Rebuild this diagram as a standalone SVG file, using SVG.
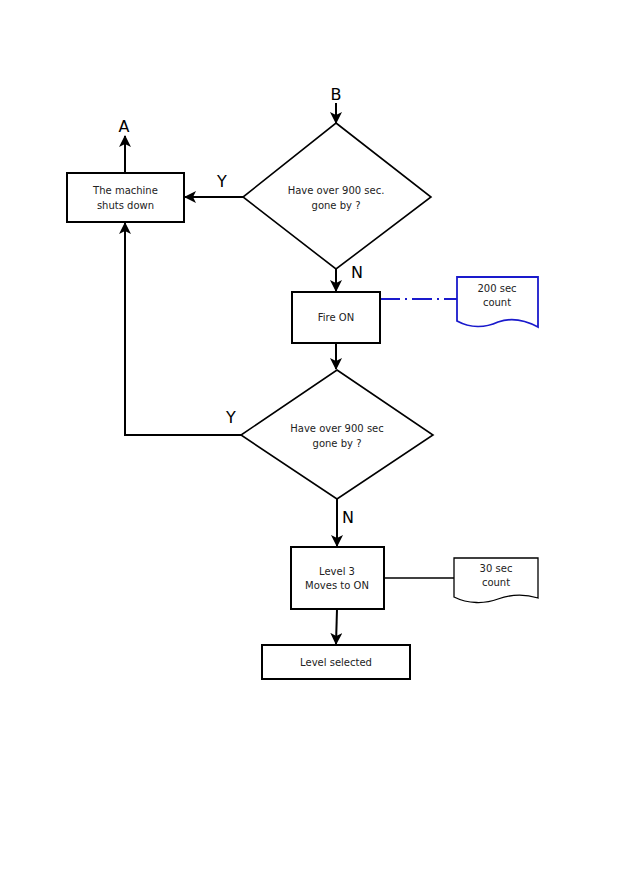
<svg xmlns="http://www.w3.org/2000/svg" width="629" height="893" viewBox="0 0 629 893">
<defs>
<marker id="ah" viewBox="0 0 12 12" refX="11" refY="6" markerWidth="12" markerHeight="12" markerUnits="userSpaceOnUse" orient="auto">
<path d="M0,0 L12,6 L0,12 L3,6 Z" fill="#000"/>
</marker>
<style>
.box{fill:#fff;stroke:#000;stroke-width:2}
.dia{fill:#fff;stroke:#000;stroke-width:1.6}
.doc{fill:#fff;stroke:#000;stroke-width:1.3}
.docb{fill:#fff;stroke:#1a1acc;stroke-width:1.8}
.t{font-family:"DejaVu Sans",Verdana,sans-serif;font-size:10px;fill:#222;text-anchor:middle}
.lbl{font-family:"DejaVu Sans",Arial,sans-serif;font-size:16px;fill:#000;text-anchor:middle}
.c{fill:none;stroke:#000;stroke-width:2}
</style>
</defs>
<rect width="629" height="893" fill="#fff"/>

<g id="connectors">
<line class="c" x1="336" y1="103" x2="336" y2="123" marker-end="url(#ah)"/>
<line class="c" x1="243" y1="197" x2="185" y2="197" marker-end="url(#ah)"/>
<line class="c" x1="125" y1="173" x2="125" y2="136" marker-end="url(#ah)"/>
<line class="c" x1="336" y1="269" x2="336" y2="291" marker-end="url(#ah)"/>
<line class="c" x1="336" y1="343" x2="336" y2="369" marker-end="url(#ah)"/>
<polyline class="c" points="241,435 125,435 125,223" marker-end="url(#ah)"/>
<line class="c" x1="337" y1="499" x2="337" y2="546" marker-end="url(#ah)"/>
<line class="c" x1="337" y1="609" x2="336" y2="644" marker-end="url(#ah)"/>
<line x1="380" y1="299" x2="457" y2="299" stroke="#1a1acc" stroke-width="1.8" stroke-dasharray="20,5,2,5"/>
<line x1="384" y1="578" x2="454" y2="578" stroke="#000" stroke-width="1.3"/>
<text class="lbl" x="336" y="100">B</text>
<text class="lbl" x="124" y="132">A</text>
<text class="lbl" x="222" y="187">Y</text>
<text class="lbl" x="357" y="278">N</text>
<text class="lbl" x="231" y="423">Y</text>
<text class="lbl" x="348" y="523">N</text>
</g>

<g id="shutdown">
<rect class="box" x="67" y="173" width="117" height="49"/>
<text class="t" x="125.5" y="194">The machine</text>
<text class="t" x="125.5" y="209">shuts down</text>
</g>

<g id="decision1">
<polygon class="dia" points="336,123 431,197 336,269 243,197"/>
<text class="t" x="336" y="194">Have over 900 sec.</text>
<text class="t" x="336" y="209">gone by ?</text>
</g>

<g id="fireon">
<rect class="box" x="292" y="292" width="88" height="51"/>
<text class="t" x="336" y="321">Fire ON</text>
</g>

<g id="doc200">
<path class="docb" d="M457,277 L538,277 L538,327 C525,320 512,317 498,322 C485,328 470,328 457,321 Z"/>
<text class="t" x="497" y="292">200 sec</text>
<text class="t" x="497" y="306">count</text>
</g>

<g id="decision2">
<polygon class="dia" points="337,370 433,435 337,499 241,435"/>
<text class="t" x="337" y="432">Have over 900 sec</text>
<text class="t" x="337" y="447">gone by ?</text>
</g>

<g id="level3">
<rect class="box" x="291" y="547" width="93" height="62"/>
<text class="t" x="337" y="575">Level 3</text>
<text class="t" x="337" y="589">Moves to ON</text>
</g>

<g id="doc30">
<path class="doc" d="M454,558 L538,558 L538,598 C525,594 512,594 498,599 C485,604 468,604 454,597 Z"/>
<text class="t" x="496" y="572">30 sec</text>
<text class="t" x="496" y="586">count</text>
</g>

<g id="levelselected">
<rect class="box" x="262" y="645" width="148" height="34"/>
<text class="t" x="336" y="666">Level selected</text>
</g>
</svg>
